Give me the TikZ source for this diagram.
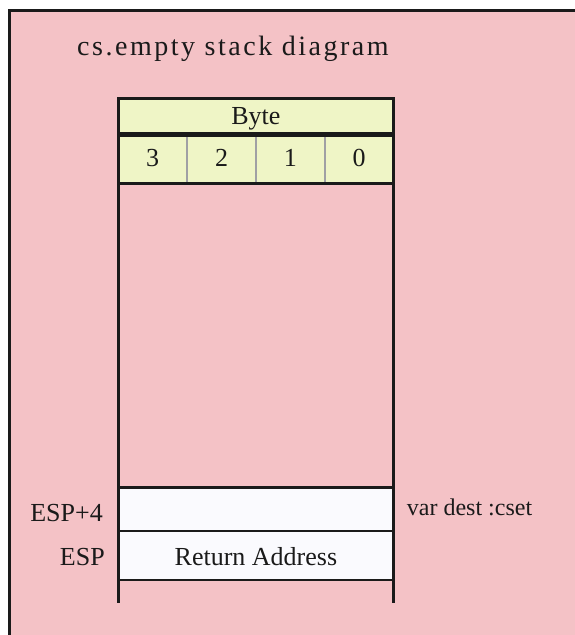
\documentclass[tikz,border=0pt]{standalone}
\usepackage{fontspec}
\setmainfont{Liberation Serif}
\definecolor{bgpink}{HTML}{F4C2C6}
\definecolor{hdryellow}{HTML}{EFF5C6}
\definecolor{cellwhite}{HTML}{FAFAFE}
\definecolor{ink}{HTML}{1A1A1A}
\definecolor{divgray}{HTML}{A0A0A4}
\begin{document}
\begin{tikzpicture}[x=1pt,y=-1pt,
  txt/.style={font=\fontsize{26}{30}\selectfont, inner sep=0pt, text=ink},
  frameline/.style={draw=ink, line width=2.7pt},
  tableline/.style={draw=ink, line width=2.7pt},
  divline/.style={draw=divgray, line width=2pt},
  cellbox/.style={draw=ink, line width=2.7pt, fill=cellwhite}]
\def\L{118.3}
\def\R{393.5}
\useasboundingbox (0,0) rectangle (574,635);
\fill[white] (0,0) rectangle (574,635);
\fill[bgpink] (9.5,10.3) rectangle (580,640);
\draw[frameline] (9.5,640) -- (9.5,10.3) -- (580,10.3);
% header
\fill[hdryellow] (\L,98.5) rectangle (\R,183.5);
\draw[divline] (187.1,134.5) -- (187.1,183.5);
\draw[divline] (255.9,134.5) -- (255.9,183.5);
\draw[divline] (324.7,134.5) -- (324.7,183.5);
\draw[tableline] (\L,98.5) rectangle (\R,183.5);
\draw[draw=ink, line width=4.2pt] (\L,134.5) -- (\R,134.5);
% stack side lines
\draw[tableline] (\L,183.5) -- (\L,603);
\draw[tableline] (\R,183.5) -- (\R,603);
% boxes
\draw[cellbox] (\L,487.5) rectangle (\R,531);
\draw[cellbox] (\L,531) rectangle (\R,580);
% texts
\node[txt, anchor=base west, font=\fontsize{28}{32}\selectfont\addfontfeature{LetterSpace=9}] (title) at (77,55) {cs.empty stack diagram};
\node[txt, anchor=base] (byte) at (255.9,124.3) {Byte};
\node[txt, anchor=base] (b3) at (152.7,166) {3};
\node[txt, anchor=base] (b2) at (221.5,166) {2};
\node[txt, anchor=base] (b1) at (290.3,166) {1};
\node[txt, anchor=base] (b0) at (359.1,166) {0};
\node[txt, anchor=base east] (esp4) at (103,521.7) {ESP+4};
\node[txt, anchor=base east] (esp) at (105,565) {ESP};
\node[txt, anchor=base] (ret) at (255.9,565) {Return Address};
\node[txt, anchor=base west, font=\fontsize{24}{28}\selectfont] (dest) at (406.7,515.7) {var dest :cset};
\end{tikzpicture}
\end{document}
